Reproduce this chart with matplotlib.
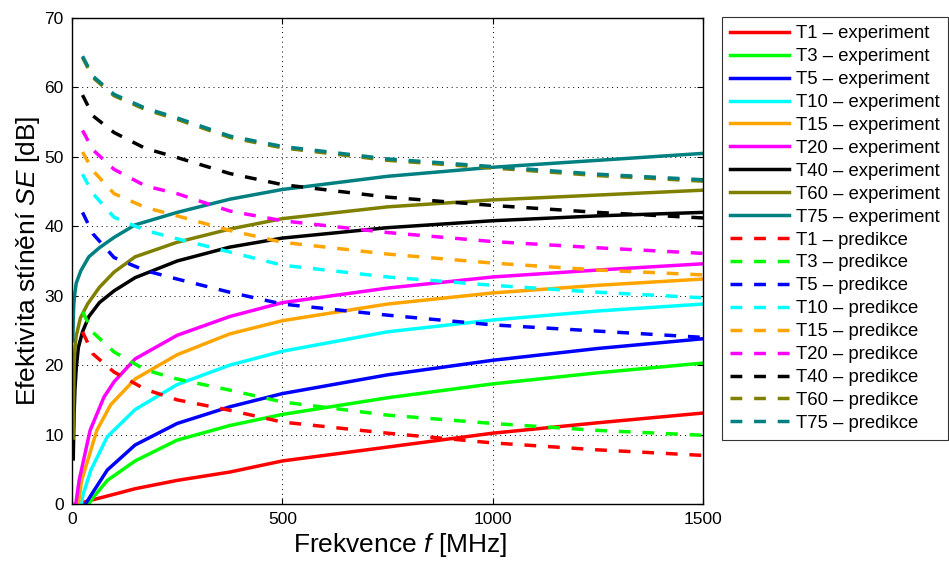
import matplotlib
matplotlib.use("Agg")
import matplotlib.pyplot as plt

plt.rcParams['font.family'] = ['Liberation Sans', 'DejaVu Sans']
plt.rcParams['mathtext.fontset'] = 'custom'
plt.rcParams['mathtext.it'] = 'Liberation Sans:italic'
plt.rcParams['mathtext.rm'] = 'Liberation Sans'

# experiment (solid) - frequency [MHz] and SE [dB]
f_t1 = [8, 30, 100, 150, 250, 375, 500, 750, 1000, 1250, 1500]
se_t1 = [0.0, 0.3, 1.4, 2.2, 3.4, 4.6, 6.2, 8.2, 10.2, 11.7, 13.1]

f_t3 = [40, 51, 84, 150, 250, 375, 500, 750, 1000, 1250, 1500]
se_t3 = [0.0, 1.0, 3.4, 6.2, 9.2, 11.3, 12.9, 15.3, 17.3, 18.9, 20.3]

f_t5 = [32, 53, 84, 150, 250, 375, 500, 750, 1000, 1250, 1500]
se_t5 = [0.0, 2.0, 4.9, 8.5, 11.6, 14.0, 15.9, 18.6, 20.7, 22.4, 23.8]

f_t10 = [22, 27, 45, 84, 150, 250, 375, 500, 750, 1000, 1250, 1500]
se_t10 = [0.0, 1.5, 4.9, 9.7, 13.6, 17.2, 20.0, 22.0, 24.8, 26.5, 27.8, 28.8]

f_t15 = [15, 23, 59, 92, 150, 250, 375, 500, 750, 1000, 1250, 1500]
se_t15 = [0.0, 3.4, 10.6, 14.3, 18.0, 21.5, 24.5, 26.4, 28.8, 30.4, 31.5, 32.4]

f_t20 = [9, 17, 43, 76, 100, 150, 250, 375, 500, 750, 1000, 1250, 1500]
se_t20 = [0.0, 3.4, 10.6, 15.4, 17.6, 20.9, 24.3, 27.0, 29.0, 31.1, 32.7, 33.7, 34.6]

f_t40 = [3, 4, 5, 7, 10, 15, 25, 40, 65, 100, 150, 250, 375, 500, 750, 1000, 1250, 1500]
se_t40 = [6.5, 10.0, 13.0, 16.5, 19.5, 22.5, 24.8, 27.0, 29.0, 30.7, 32.6, 35.0, 37.0, 38.3, 39.8, 40.8, 41.5, 42.0]

f_t60 = [3, 4, 5, 7, 10, 20, 37, 65, 100, 150, 250, 375, 500, 750, 1000, 1250, 1500]
se_t60 = [9.5, 16.0, 20.0, 22.5, 24.2, 26.8, 28.8, 31.2, 33.4, 35.6, 37.7, 39.6, 41.1, 42.8, 43.8, 44.5, 45.2]

f_t75 = [2, 3, 4, 6, 10, 21, 40, 65, 100, 150, 250, 375, 500, 750, 1000, 1250, 1500]
se_t75 = [23.5, 26.5, 28.5, 30.0, 31.8, 33.6, 35.6, 36.9, 38.4, 40.2, 42.0, 43.9, 45.3, 47.2, 48.5, 49.5, 50.5]

# predikce (dashed) - common frequency grid
f_pred = [25, 50, 100, 175, 250, 375, 500, 750, 1000, 1250, 1500]
pr_t1 = [24.8, 21.6, 19.0, 16.5, 15.0, 13.5, 11.8, 10.2, 8.8, 7.8, 7.0]
pr_t3 = [27.7, 24.7, 21.9, 19.3, 18.0, 16.4, 14.7, 12.8, 11.6, 10.6, 9.9]
pr_t5 = [42.0, 38.9, 35.5, 33.6, 32.4, 30.5, 28.8, 27.2, 25.8, 24.9, 24.0]
pr_t10 = [47.5, 44.7, 41.3, 39.4, 38.2, 36.3, 34.4, 32.7, 31.5, 30.5, 29.7]
pr_t15 = [50.7, 48.0, 44.7, 42.7, 41.5, 39.4, 37.7, 36.0, 34.7, 33.7, 33.0]
pr_t20 = [53.8, 51.0, 48.2, 45.8, 44.7, 42.2, 40.8, 39.1, 37.8, 36.9, 36.1]
pr_t40 = [58.9, 55.9, 53.5, 51.2, 49.9, 47.6, 46.0, 44.2, 43.0, 42.0, 41.2]
pr_t60 = [64.3, 61.4, 58.8, 56.8, 55.4, 52.8, 51.3, 49.5, 48.4, 47.3, 46.5]
pr_t75 = [64.5, 61.6, 59.0, 57.0, 55.6, 53.0, 51.5, 49.7, 48.6, 47.5, 46.7]

names = ['T1', 'T3', 'T5', 'T10', 'T15', 'T20', 'T40', 'T60', 'T75']
colors = ['#ff0000', '#00ff00', '#0000ff', '#00ffff', '#ffa500',
          '#ff00ff', '#000000', '#808000', '#008080']

exp_f = [f_t1, f_t3, f_t5, f_t10, f_t15, f_t20, f_t40, f_t60, f_t75]
exp_se = [se_t1, se_t3, se_t5, se_t10, se_t15, se_t20, se_t40, se_t60, se_t75]
pred_se = [pr_t1, pr_t3, pr_t5, pr_t10, pr_t15, pr_t20, pr_t40, pr_t60, pr_t75]

fig = plt.figure(figsize=(9.49, 5.61), dpi=100)
ax = fig.add_axes([72/949, 1-504/561, (703-72)/949, (504-18)/561])

lw = 2.5
for k in range(len(names)):
    ax.plot(exp_f[k], exp_se[k], color=colors[k], lw=lw,
            label=names[k] + ' – experiment')
for k in range(len(names)):
    ax.plot(f_pred, pred_se[k], color=colors[k], lw=lw, dashes=(3.4, 3.4),
            label=names[k] + ' – predikce')

ax.set_xlim(0, 1500)
ax.set_ylim(0, 70)
ax.set_xticks([0, 500, 1000, 1500])
ax.set_yticks(range(0, 71, 10))
ax.grid(True, linestyle=(0, (1, 4)), color='k', lw=0.7)
ax.tick_params(direction='in', top=True, right=True, labelsize=12.5,
               length=4, pad=6)
for s in ax.spines.values():
    s.set_linewidth(1.0)

ax.set_xlabel('Frekvence $f$ [MHz]', fontsize=19, labelpad=4)
ax.xaxis.set_label_coords(0.52, -0.056)
ax.set_ylabel('Efektivita stínění $SE$ [dB]', fontsize=19, labelpad=2)

leg = ax.legend(loc='upper left', bbox_to_anchor=(722/949, 1-17/561),
                bbox_transform=fig.transFigure, fontsize=13.3, frameon=True,
                fancybox=False, edgecolor='k', borderaxespad=0,
                handlelength=3.2, labelspacing=0.32, handletextpad=0.35,
                borderpad=0.45)
leg.get_frame().set_linewidth(0.8)

fig.savefig('out.png', dpi=100)
